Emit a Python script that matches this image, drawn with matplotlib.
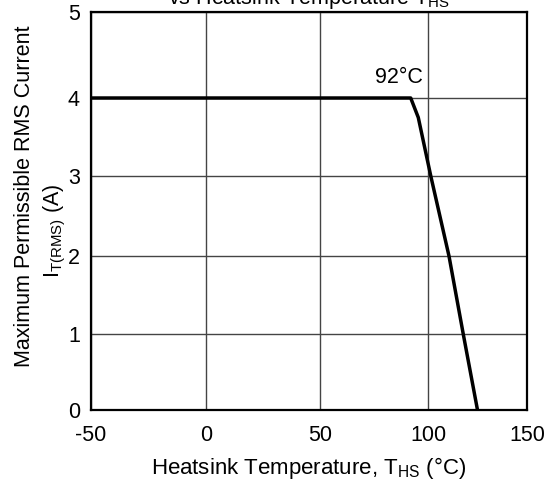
import numpy as np
import matplotlib
matplotlib.use('Agg')
import matplotlib.pyplot as plt

plt.rcParams['font.family'] = ['Liberation Sans', 'DejaVu Sans']
plt.rcParams['mathtext.fontset'] = 'custom'
plt.rcParams['mathtext.rm'] = 'Liberation Sans'
plt.rcParams['mathtext.it'] = 'Liberation Sans'

# derating curve
temp = [-50, 92, 95.5, 101.4, 110.6, 117.8, 125]
current = [4, 4, 3.75, 3, 2, 1, 0]

x_ticks = [-50, 0, 50, 100, 150]
y_ticks = [0, 1, 2, 3, 4, 5]

# the printed grid is not evenly spaced, so map the axes piecewise
x_pos = [0, 115, 229, 337, 436]
y_pos = [0, 76, 154, 234, 312, 398]


def fwd_x(v):
    return np.interp(v, x_ticks, x_pos)


def inv_x(v):
    return np.interp(v, x_pos, x_ticks)


def fwd_y(v):
    return np.interp(v, y_ticks, y_pos)


def inv_y(v):
    return np.interp(v, y_pos, y_ticks)


fig = plt.figure(figsize=(5.53, 4.84), dpi=100)
ax = fig.add_axes([91 / 553, 1 - 410 / 484, (527 - 91) / 553, (410 - 12) / 484])
ax.set_xscale('function', functions=(fwd_x, inv_x))
ax.set_yscale('function', functions=(fwd_y, inv_y))
ax.set_xlim(-50, 150)
ax.set_ylim(0, 5)
ax.set_xticks(x_ticks)
ax.set_yticks(y_ticks)
ax.set_xticklabels([str(t) for t in x_ticks])
ax.tick_params(length=0, labelsize=15.5)
ax.tick_params(axis='x', pad=11)
ax.tick_params(axis='y', pad=8)
ax.grid(True, color='#444444', linewidth=1)
for s in ax.spines.values():
    s.set_linewidth(1.6)

ax.plot(temp, current, color='black', linewidth=2.5, zorder=3)

ax.text(97.5, 4.12, '92°C', fontsize=15.5, ha='right', va='bottom',
        bbox=dict(facecolor='white', edgecolor='none', pad=2), zorder=4)

ax.set_xlabel('Heatsink Temperature, T$_{\\rm HS}$ (°C)', fontsize=16, labelpad=6)

fig.text(25 / 553, 1 - 196 / 484, 'Maximum Permissible RMS Current', rotation=90,
         fontsize=15.5, ha='center', va='center')
fig.text(55 / 553, 1 - 231 / 484, 'I$_{\\rm T(RMS)}$ (A)', rotation=90,
         fontsize=15.5, ha='center', va='center')

fig.text(309 / 553, 1 - 4 / 484, 'vs Heatsink Temperature T$_{\\rm HS}$',
         fontsize=15.5, ha='center', va='baseline')

fig.savefig('out.png', dpi=100)
